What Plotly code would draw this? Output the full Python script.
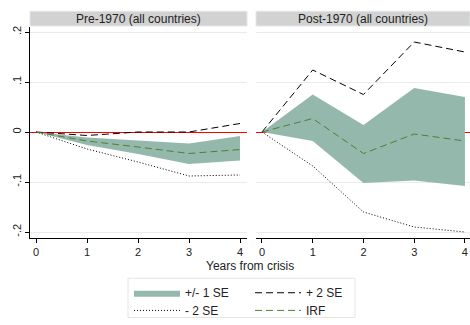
import plotly.graph_objects as go

years = [0, 1, 2, 3, 4]

# Pre-1970 panel
pre_irf = [0, -0.018, -0.030, -0.043, -0.035]
pre_up1 = [0, -0.011, -0.017, -0.023, -0.008]
pre_lo1 = [0, -0.026, -0.044, -0.064, -0.057]
pre_up2 = [0, -0.007, 0.000, 0.000, 0.017]
pre_lo2 = [0, -0.034, -0.060, -0.088, -0.086]

# Post-1970 panel
post_irf = [0, 0.027, -0.043, -0.004, -0.018]
post_up1 = [0, 0.075, 0.014, 0.088, 0.070]
post_lo1 = [0, -0.018, -0.102, -0.097, -0.108]
post_up2 = [0, 0.124, 0.075, 0.180, 0.160]
post_lo2 = [0, -0.068, -0.160, -0.190, -0.200]

panel_titles = ["Pre-1970 (all countries)", "Post-1970 (all countries)"]
y_tickvals = [-0.2, -0.1, 0, 0.1, 0.2]
y_ticktext = ["-.2", "-.1", "0", ".1", ".2"]

FILL = "#95b8ad"
GREEN = "#4f7f2f"
FONT = "Liberation Sans, Arial, sans-serif"

fig = go.Figure()
panels = [
    (pre_irf, pre_up1, pre_lo1, pre_up2, pre_lo2, "x", "y"),
    (post_irf, post_up1, post_lo1, post_up2, post_lo2, "x2", "y2"),
]
for i, (irf, up1, lo1, up2, lo2, xa, ya) in enumerate(panels):
    first = i == 0
    fig.add_trace(go.Scatter(x=years, y=lo1, mode="lines", line=dict(width=0),
                             showlegend=False, hoverinfo="skip", xaxis=xa, yaxis=ya))
    fig.add_trace(go.Scatter(x=years, y=up1, mode="lines", line=dict(width=0),
                             fill="tonexty", fillcolor=FILL, name="+/- 1 SE",
                             showlegend=first, legend="legend", legendrank=1,
                             xaxis=xa, yaxis=ya))
    fig.add_trace(go.Scatter(x=years, y=up2, mode="lines",
                             line=dict(color="black", width=1, dash="7px,4px"),
                             name="+ 2 SE", showlegend=first, legend="legend",
                             legendrank=2, xaxis=xa, yaxis=ya))
    fig.add_trace(go.Scatter(x=years, y=lo2, mode="lines",
                             line=dict(color="black", width=1, dash="1px,2px"),
                             name="- 2 SE", showlegend=first, legend="legend2",
                             legendrank=3, xaxis=xa, yaxis=ya))
    fig.add_trace(go.Scatter(x=years, y=irf, mode="lines",
                             line=dict(color=GREEN, width=1, dash="7px,4px"),
                             name="IRF", showlegend=first, legend="legend2",
                             legendrank=4, xaxis=xa, yaxis=ya))

W, H = 470, 325
ml, mr, mt, mb = 30, 0, 27, 83
pw = W - ml - mr
ph = H - mt - mb

def px_x(p):
    return (p - ml) / pw

def px_y(p):
    return (H - mb - p) / ph

d1 = [0, px_x(247)]
d2 = [px_x(256), 1]

common_x = dict(tickvals=years, ticks="outside", ticklen=4, tickcolor="black",
                showgrid=False, zeroline=False, showline=True, linecolor="black",
                linewidth=1, tickfont=dict(size=11, color="#222"), fixedrange=True)
common_y = dict(range=[-0.212, 0.21], tickvals=y_tickvals, showgrid=True,
                gridcolor="#ebebeb", gridwidth=1, zeroline=True, zerolinecolor="red",
                zerolinewidth=1, fixedrange=True)

fig.update_layout(
    width=W, height=H,
    margin=dict(l=ml, r=mr, t=mt, b=mb, pad=0),
    paper_bgcolor="white", plot_bgcolor="white",
    font=dict(family=FONT, color="#222", size=11),
    xaxis=dict(domain=d1, range=[-0.118, 4.137], anchor="y", **common_x),
    xaxis2=dict(domain=d2, range=[-0.118, 4.1], anchor="y2", **common_x),
    yaxis=dict(anchor="x", ticktext=y_ticktext, ticks="outside", ticklen=4,
               tickcolor="black", showline=True, linecolor="black", linewidth=1,
               tickangle=-90, tickfont=dict(size=11, color="#222"), **common_y),
    yaxis2=dict(anchor="x2", matches="y", showticklabels=False, ticks="",
                showline=False, **common_y),
    legend=dict(orientation="h", x=px_x(129), y=px_y(283), xanchor="left",
                yanchor="top", bgcolor="rgba(0,0,0,0)", borderwidth=0,
                entrywidth=60, itemwidth=46, font=dict(size=12, color="#222"),
                traceorder="normal"),
    legend2=dict(orientation="h", x=px_x(129), y=px_y(301), xanchor="left",
                 yanchor="top", bgcolor="rgba(0,0,0,0)", borderwidth=0,
                 entrywidth=60, itemwidth=46, font=dict(size=12, color="#222"),
                 traceorder="normal"),
    showlegend=True,
)

shapes = []
annotations = []
for i, (xd, title) in enumerate(zip(["x domain", "x2 domain"], panel_titles)):
    yd = "y domain" if i == 0 else "y2 domain"
    shapes.append(dict(type="rect", xref=xd, yref=yd, x0=0, x1=1,
                       y0=px_y(26), y1=px_y(11), fillcolor="#d2d2d2",
                       line=dict(color="#e2e6ea", width=1), layer="above"))
    annotations.append(dict(text=title, xref=xd, yref=yd, x=0.5,
                            y=px_y(18.5), showarrow=False, xanchor="center",
                            yanchor="middle", font=dict(size=12, color="#222")))

# legend frame
shapes.append(dict(type="rect", xref="paper", yref="paper", x0=px_x(128), x1=px_x(355),
                   y0=px_y(323), y1=px_y(283), fillcolor="rgba(0,0,0,0)",
                   line=dict(color="#e4e4e4", width=1), layer="below"))
annotations.append(dict(text="Years from crisis", xref="paper", yref="paper",
                        x=px_x(250), y=px_y(271), showarrow=False, xanchor="center",
                        yanchor="middle", font=dict(size=12, color="#222")))

fig.update_layout(shapes=shapes, annotations=annotations)
fig.write_html("out.html", config={"displayModeBar": False},
               post_script="document.body.style.margin='0';document.body.style.overflow='hidden';")
